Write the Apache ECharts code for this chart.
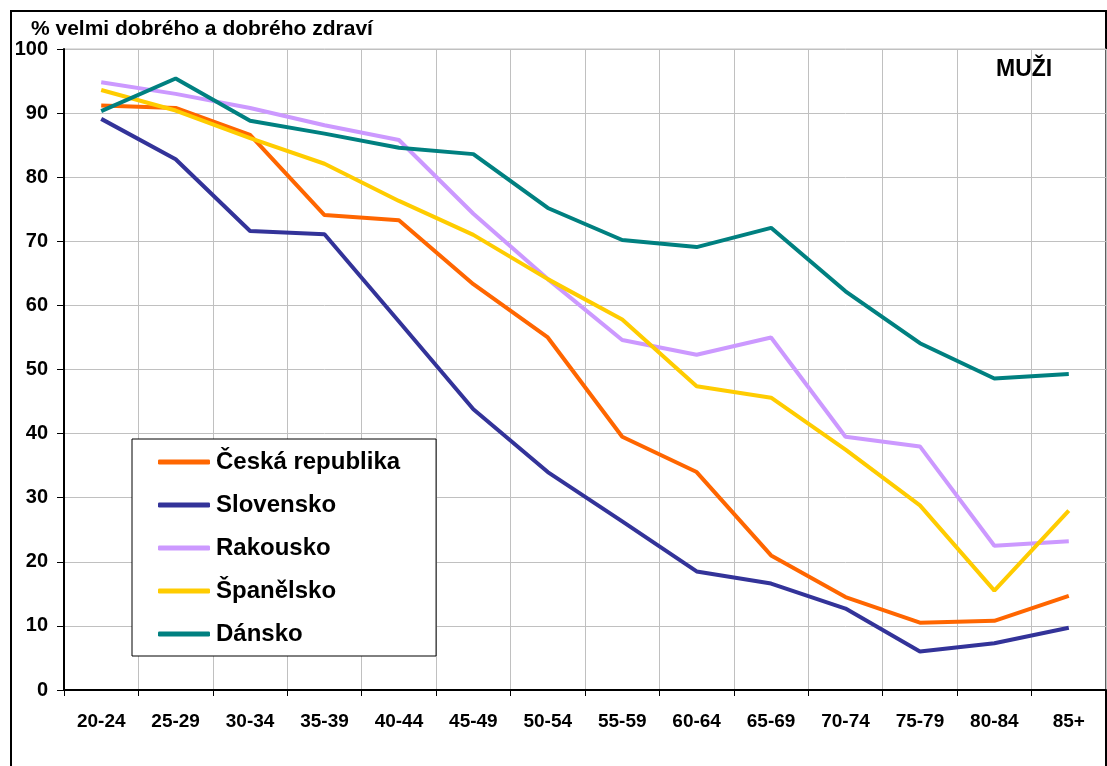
<!DOCTYPE html>
<html>
<head>
<meta charset="utf-8">
<script src="https://cdn.jsdelivr.net/npm/echarts@6/dist/echarts.min.js"></script>
<style>
html,body{margin:0;padding:0;background:#fff;}
#c{width:1107px;height:766px;}
</style>
</head>
<body>
<div id="c"></div>
<script>
const categories = ['20-24','25-29','30-34','35-39','40-44','45-49','50-54','55-59','60-64','65-69','70-74','75-79','80-84','85+'];
const yTicks = [0,10,20,30,40,50,60,70,80,90,100];
const ceskaRepublika = [91.2, 90.8, 86.6, 74.1, 73.3, 63.3, 55.0, 39.5, 34.0, 21.0, 14.5, 10.5, 10.8, 14.7];
const slovensko      = [89.1, 82.8, 71.6, 71.1, 57.5, 43.8, 34.0, 26.3, 18.5, 16.6, 12.7, 6.0, 7.3, 9.7];
const rakousko       = [94.8, 93.0, 90.8, 88.1, 85.8, 74.3, 64.1, 54.6, 52.3, 55.0, 39.5, 38.0, 22.5, 23.2];
const spanelsko      = [93.6, 90.4, 86.1, 82.1, 76.3, 71.0, 64.1, 57.8, 47.4, 45.6, 37.5, 28.8, 15.5, 28.0];
const dansko         = [90.3, 95.4, 88.8, 86.8, 84.6, 83.6, 75.2, 70.2, 69.1, 72.1, 62.2, 54.1, 48.6, 49.3];
const seriesNames = ['Česká republika','Slovensko','Rakousko','Španělsko','Dánsko'];
const seriesColors = ['#FF6600','#333399','#CC99FF','#FFCC00','#008080'];
const seriesData = [ceskaRepublika, slovensko, rakousko, spanelsko, dansko];

const FONT = 'Arial, "Liberation Sans", sans-serif';
const chart = echarts.init(document.getElementById('c'), null, {renderer:'canvas'});
chart.setOption({
  animation: false,
  backgroundColor: '#fff',
  grid: {left: 64, right: 1, top: 49, bottom: 76, show: true, borderColor: '#c0c0c0', borderWidth: 1, containLabel: false},
  graphic: [
    {type:'rect', shape:{x:11, y:11, width:1095, height:800}, style:{fill:'none', stroke:'#000', lineWidth:2}, z:-1},
    {type:'text', left:31, top:19, style:{text:'% velmi dobrého a dobrého zdraví', font:'bold 21px ' + FONT, fill:'#000'}},
    {type:'text', left:996, top:58, style:{text:'MUŽI', font:'bold 23px ' + FONT, fill:'#000'}}
  ],
  legend: {
    show: true, orient: 'vertical', left: 132, top: 439,
    data: seriesNames,
    icon: 'roundRect', itemWidth: 52, itemHeight: 5, itemGap: 19,
    backgroundColor: '#fff', borderColor: '#000', borderWidth: 1, borderRadius: 0,
    padding: [11, 36, 10, 26],
    textStyle: {fontFamily: FONT, fontWeight: 'bold', fontSize: 24, color: '#000', lineHeight: 24, padding:[0,0,0,1]}
  },
  xAxis: {
    type: 'category', data: categories, boundaryGap: true,
    axisLine: {show: true, lineStyle: {color: '#000', width: 2}},
    axisTick: {show: true, length: 6, inside: false, lineStyle: {color: '#000', width: 1}},
    axisLabel: {fontFamily: FONT, fontWeight: 'bold', fontSize: 19, color: '#000', margin: 22, interval: 0},
    splitLine: {show: true, interval: 0, lineStyle: {color: '#c0c0c0', width: 1}}
  },
  yAxis: {
    type: 'value', min: yTicks[0], max: yTicks[yTicks.length-1], interval: 10,
    axisLine: {show: true, lineStyle: {color: '#000', width: 2}},
    axisTick: {show: true, length: 7, lineStyle: {color: '#000', width: 1}},
    axisLabel: {fontFamily: FONT, fontWeight: 'bold', fontSize: 20, color: '#000', margin: 16},
    splitLine: {show: true, lineStyle: {color: '#c0c0c0', width: 1}}
  },
  series: seriesNames.map((n, i) => ({
    name: n, type: 'line', data: seriesData[i], symbol: 'none', smooth: false,
    lineStyle: {color: seriesColors[i], width: 4},
    itemStyle: {color: seriesColors[i]}
  }))
});
</script>
</body>
</html>
